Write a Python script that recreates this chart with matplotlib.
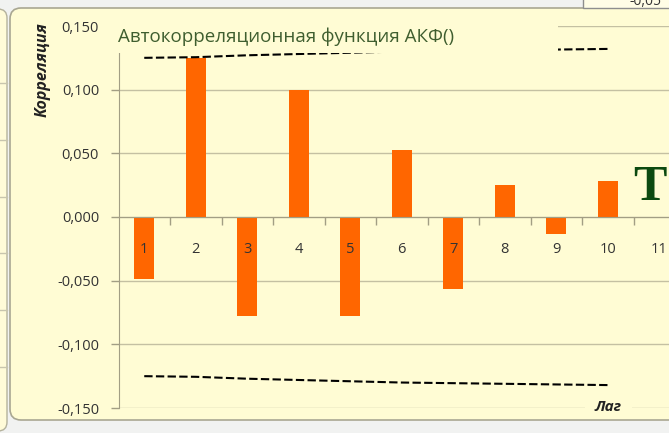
import matplotlib
matplotlib.use('Agg')
import matplotlib.pyplot as plt
from matplotlib.patches import Rectangle, FancyBboxPatch
from matplotlib.ticker import FuncFormatter, FixedLocator

# ---------------- data ----------------
lags = [1, 2, 3, 4, 5, 6, 7, 8, 9, 10, 11]
acf_values = [-0.049, 0.125, -0.078, 0.100, -0.078, 0.053, -0.0565, 0.025, -0.013, 0.028, 0.0]
bound_lags = [1, 2, 3, 4, 5, 6, 7, 8, 9, 10]
upper_bound = [0.125, 0.1255, 0.127, 0.128, 0.129, 0.130, 0.1305, 0.131, 0.1315, 0.132]
lower_bound = [-0.125, -0.1255, -0.127, -0.128, -0.129, -0.130, -0.1305, -0.131, -0.1315, -0.132]
y_ticks = [-0.150, -0.100, -0.050, 0.000, 0.050, 0.100, 0.150]
title_text = "Автокорреляционная функция АКФ()"
y_label = "Корреляция"
x_label = "Лаг"

# ---------------- style ----------------
plt.rcParams['font.family'] = ['Open Sans', 'DejaVu Sans']
BG = '#FFFCD4'
GRID = '#C4C0A2'
AXC = '#A29E84'
BAR = '#FF6600'
TXT = '#333333'

W, H = 669, 433
fig = plt.figure(figsize=(W / 100, H / 100), dpi=100)
fig.patch.set_facecolor('#F1F2F1')

# background layer in pixel coordinates
bg = fig.add_axes([0, 0, 1, 1], zorder=0)
bg.set_xlim(0, W)
bg.set_ylim(H, 0)
bg.axis('off')
bg.add_patch(FancyBboxPatch((-60, 9), 67, 422, boxstyle='round,pad=0,rounding_size=9',
                            fc='#FFFBD8', ec='#B4B29C', lw=1))
for yy in [83, 140, 197, 253, 310, 367]:
    bg.plot([0, 7], [yy, yy], color='#C8C5AE', lw=1)
bg.add_patch(FancyBboxPatch((10, 8), 800, 412, boxstyle='round,pad=0,rounding_size=11',
                            fc=BG, ec='#A9A792', lw=1.2))
bg.add_patch(Rectangle((583, -5), 100, 12.5, fc='#FFFDE6', ec='#8E8E8E', lw=1))
bg.text(630, 5, "-0,05", fontsize=10, color=TXT, ha='left', va='baseline')

# main chart axes
x0_px, spacing_px = 118.5, 51.5
ax = fig.add_axes([x0_px / W, 1 - 408 / H, (W - x0_px) / W, (408 - 26) / H], zorder=2)
ax.patch.set_visible(False)
ax.set_axisbelow(False)
ax.set_xlim(0.5, 0.5 + (W - x0_px) / spacing_px)
ax.set_ylim(-0.15, 0.15)

for yv in y_ticks:
    ax.axhline(yv, color=GRID, lw=1, zorder=0.5)
ax.bar(lags, acf_values, width=0.39, color=BAR, zorder=2)
ax.plot(bound_lags, upper_bound, color='black', lw=1.5, ls=(0, (4, 1.6)), zorder=3)
ax.plot(bound_lags, lower_bound, color='black', lw=1.5, ls=(0, (4, 1.6)), zorder=3)

ax.set_yticks(y_ticks)
ax.yaxis.set_major_formatter(FuncFormatter(lambda v, p: f"{v:.3f}".replace('.', ',').replace('-0,000', '0,000')))
ax.tick_params(axis='y', length=6, width=1, color=AXC, labelcolor=TXT, labelsize=10.5, pad=8)

ax.xaxis.set_major_locator(FixedLocator([l + 0.5 for l in lags]))
ax.xaxis.set_minor_locator(FixedLocator(lags))
ax.xaxis.set_major_formatter(FuncFormatter(lambda v, p: ''))
ax.xaxis.set_minor_formatter(FuncFormatter(lambda v, p: f"{int(round(v))}"))
ax.tick_params(axis='x', which='major', length=6, width=1, color=AXC, direction='out')
ax.tick_params(axis='x', which='minor', length=0, labelcolor=TXT, labelsize=10.5, pad=18)

for s in ['top', 'right']:
    ax.spines[s].set_visible(False)
ax.spines['bottom'].set_position(('data', 0))
ax.spines['bottom'].set_color(AXC)
ax.spines['left'].set_color(AXC)

# overlay layer in pixel coordinates
ov = fig.add_axes([0, 0, 1, 1], zorder=5)
ov.set_xlim(0, W)
ov.set_ylim(H, 0)
ov.axis('off')
ov.patch.set_visible(False)
ov.add_patch(Rectangle((105, 9.5), 453, 43, fc=BG, ec='none'))
ov.text(118, 37, title_text, fontsize=13.5, color='#3F5E2F', ha='left', va='center')
ov.text(43, 70, y_label, rotation=90, fontsize=11.5, fontweight='bold', fontstyle='italic',
        color='#222222', ha='center', va='center')
ov.add_patch(Rectangle((585, 399), 47, 16, fc=BG, ec='none'))
ov.text(608, 407, x_label, fontsize=11, fontweight='bold', fontstyle='italic',
        color='#222222', ha='center', va='center')
ov.text(633, 200, "Т", fontsize=36, fontweight='bold', family='Liberation Serif',
        color='#0C4A10', ha='left', va='baseline')

fig.savefig('out.png', dpi=100, facecolor=fig.get_facecolor())
